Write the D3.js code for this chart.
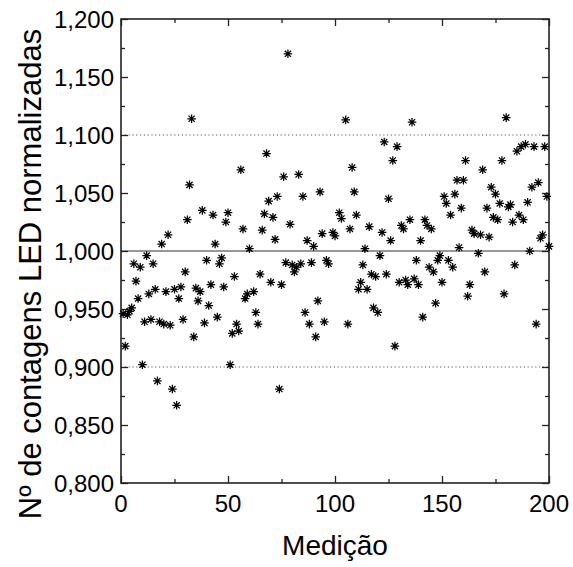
<!DOCTYPE html>
<html>
<head>
<meta charset="utf-8">
<script src="https://cdn.jsdelivr.net/npm/d3@7"></script>
<style>
  html, body { margin: 0; padding: 0; background: #fff; }
  svg { display: block; }
  text { font-family: "Liberation Sans", Arial, Helvetica, sans-serif; fill: #000; }
</style>
</head>
<body>
<svg id="chart" width="573" height="567"></svg>
<script>
// Measurement number (Medição) and normalised LED counts
const medicao = [
  1, 2, 3, 4, 5, 6, 7, 8, 9, 10, 11, 12, 13, 14, 15, 16, 17, 18, 19, 20,
  21, 22, 23, 24, 25, 26, 27, 28, 29, 30, 31, 32, 33, 34, 35, 36, 37, 38, 39, 40,
  41, 42, 43, 44, 45, 46, 47, 48, 49, 50, 51, 52, 53, 54, 55, 56, 57, 58, 59, 60,
  62, 63, 64, 65, 66, 67, 68, 69, 70, 71, 72, 73, 74, 75, 76, 77, 78, 79, 80,
  81, 82, 83, 84, 85, 86, 87, 88, 89, 90, 91, 92, 93, 94, 95, 96, 97, 99, 100,
  102, 103, 105, 106, 107, 108, 109, 110, 111, 112, 113, 114, 115, 116, 117, 118, 119, 120,
  121, 122, 123, 124, 125, 126, 127, 128, 129, 130, 131, 132, 133, 134, 135, 136, 137, 138, 139, 140,
  141, 142, 143, 144, 145, 146, 147, 148, 149, 150, 151, 152, 153, 154, 155, 156, 157, 158, 159, 160,
  161, 162, 163, 164, 165, 167, 168, 169, 170, 171, 172, 173, 174, 175, 176, 177, 178, 179, 180,
  181, 182, 183, 184, 185, 186, 187, 188, 189, 190, 191, 192, 193, 194, 195, 196, 197, 198, 199, 200
];
const contagens = [
  0.946, 0.918, 0.945, 0.948, 0.951, 0.989, 0.974, 0.959, 0.986, 0.902,
  0.939, 0.996, 0.963, 0.941, 0.989, 0.967, 0.888, 0.939, 1.006, 0.937,
  0.965, 1.014, 0.936, 0.881, 0.967, 0.867, 0.959, 0.969, 0.941, 0.982,
  1.027, 1.057, 1.114, 0.926, 0.968, 0.957, 0.965, 1.035, 0.938, 0.992,
  0.953, 0.971, 1.031, 1.006, 0.943, 0.989, 0.994, 0.969, 1.025, 1.033,
  0.902, 0.929, 0.978, 0.937, 0.931, 1.070, 1.019, 0.959, 0.963, 1.002,
  0.965, 0.947, 0.937, 0.980, 1.018, 1.032, 1.084, 1.043, 0.973,
  1.029, 1.010, 1.047, 0.881, 0.971, 1.064, 0.990, 1.170, 1.023, 0.988,
  0.982, 0.986, 1.066, 0.989, 1.047, 0.947, 1.009, 0.937, 0.990, 1.004,
  0.926, 0.957, 1.051, 1.015, 0.939, 0.992, 0.989, 1.016, 1.013,
  1.033, 1.028, 1.113, 0.937, 1.019, 1.072, 1.051, 1.031, 0.967, 0.973,
  0.988, 1.002, 0.967, 1.021, 0.980, 0.951, 0.978, 0.947,
  0.996, 1.016, 1.094, 0.980, 1.045, 1.009, 1.078, 0.918, 1.090, 0.973,
  1.022, 1.019, 0.975, 0.971, 1.027, 1.111, 0.976, 0.992, 0.971, 1.009,
  0.943, 1.027, 1.022, 0.986, 1.019, 0.982, 0.955, 0.992, 0.996, 0.973,
  1.047, 1.041, 0.992, 1.031, 0.986, 1.049, 1.061, 1.003, 1.037, 1.061,
  1.078, 0.961, 0.971, 1.018, 1.015, 0.998, 1.014, 1.070, 0.982,
  1.037, 1.012, 1.055, 1.029, 1.049, 1.027, 1.041, 1.078, 0.963, 1.115,
  1.038, 1.040, 1.025, 0.988, 1.086, 1.031, 1.090, 1.027, 1.092, 1.042,
  1.000, 1.055, 1.090, 0.937, 1.059, 1.011, 1.014, 1.090, 1.047, 1.004
];
const xTicks = [0, 50, 100, 150, 200];
const yTicks = [0.80, 0.85, 0.90, 0.95, 1.00, 1.05, 1.10, 1.15, 1.20];
const referenceLine = [1.0];
const limitLines = [0.9, 1.1];
const xTitle = "Medição";
const yTitle = "Nº de contagens LED normalizadas";

const svg = d3.select("#chart");
const margin = { left: 121, right: 24, top: 19, bottom: 84 };
const W = 573, H = 567;

const x = d3.scaleLinear().domain([0, 200]).range([margin.left, W - margin.right]);
const y = d3.scaleLinear().domain([0.8, 1.2]).range([H - margin.bottom, margin.top]);

const fmtY = v => d3.format(".3f")(v).replace(".", ",");
const minorX = d3.range(0, 201, 25);
const minorY = d3.range(0, 17).map(i => 0.8 + i * 0.025);

// horizontal guide lines
svg.append("g").selectAll("line.limit").data(limitLines).join("line")
  .attr("x1", x(0)).attr("x2", x(200))
  .attr("y1", d => y(d)).attr("y2", d => y(d))
  .attr("stroke", "#555").attr("stroke-width", 1).attr("stroke-dasharray", "1.2,2.6");
svg.append("g").selectAll("line.ref").data(referenceLine).join("line")
  .attr("x1", x(0)).attr("x2", x(200))
  .attr("y1", d => y(d)).attr("y2", d => y(d))
  .attr("stroke", "#333").attr("stroke-width", 1.2);

// axes with inward ticks on all four sides
const major = 7, minor = 4;
const gB = svg.append("g").attr("transform", `translate(0,${y(0.8)})`)
  .call(d3.axisBottom(x).tickValues(minorX).tickSizeInner(-minor).tickSizeOuter(0).tickFormat(""));
gB.selectAll(".tick line").attr("y2", d => (d % 50 === 0 ? -major : -minor));
const gT = svg.append("g").attr("transform", `translate(0,${y(1.2)})`)
  .call(d3.axisTop(x).tickValues(minorX).tickSizeInner(-minor).tickSizeOuter(0).tickFormat(""));
gT.selectAll(".tick line").attr("y2", d => (d % 50 === 0 ? major : minor));
const isMajorY = d => Math.abs(Math.round(d * 20) - d * 20) < 1e-6;
const gL = svg.append("g").attr("transform", `translate(${x(0)},0)`)
  .call(d3.axisLeft(y).tickValues(minorY).tickSizeInner(-minor).tickSizeOuter(0).tickFormat(""));
gL.selectAll(".tick line").attr("x2", d => (isMajorY(d) ? major : minor));
const gR = svg.append("g").attr("transform", `translate(${x(200)},0)`)
  .call(d3.axisRight(y).tickValues(minorY).tickSizeInner(-minor).tickSizeOuter(0).tickFormat(""));
gR.selectAll(".tick line").attr("x2", d => (isMajorY(d) ? -major : -minor));
[gB, gT, gL, gR].forEach(g => {
  g.select(".domain").remove();
  g.selectAll(".tick line").attr("stroke", "#222").attr("stroke-width", 1.3);
});

// frame
svg.append("rect")
  .attr("x", x(0)).attr("y", y(1.2))
  .attr("width", x(200) - x(0)).attr("height", y(0.8) - y(1.2))
  .attr("fill", "none").attr("stroke", "#222").attr("stroke-width", 1.6);

// tick labels
svg.append("g").selectAll("text").data(xTicks).join("text")
  .attr("x", d => x(d)).attr("y", y(0.8) + 29)
  .attr("text-anchor", "middle").attr("font-size", 24)
  .text(d => d);
svg.append("g").selectAll("text").data(yTicks).join("text")
  .attr("x", x(0) - 7).attr("y", d => y(d) + 8.5)
  .attr("text-anchor", "end").attr("font-size", 24)
  .text(fmtY);

// axis titles
svg.append("text")
  .attr("x", (x(0) + x(200)) / 2).attr("y", 555)
  .attr("text-anchor", "middle").attr("font-size", 28)
  .text(xTitle);
svg.append("text")
  .attr("transform", `translate(41,274) rotate(-90)`)
  .attr("text-anchor", "middle").attr("font-size", 31)
  .text(yTitle);

// asterisk markers
const r = 4.3, rd = r * 0.72;
const star = `M${-r},0L${r},0M0,${-r}L0,${r}M${-rd},${-rd}L${rd},${rd}M${-rd},${rd}L${rd},${-rd}`;
const pts = medicao.map((m, i) => ({ m, v: contagens[i] }));
svg.append("g").selectAll("path").data(pts).join("path")
  .attr("transform", d => `translate(${x(d.m)},${y(d.v)})`)
  .attr("d", star)
  .attr("fill", "none").attr("stroke", "#000").attr("stroke-width", 1.25);
</script>
</body>
</html>
